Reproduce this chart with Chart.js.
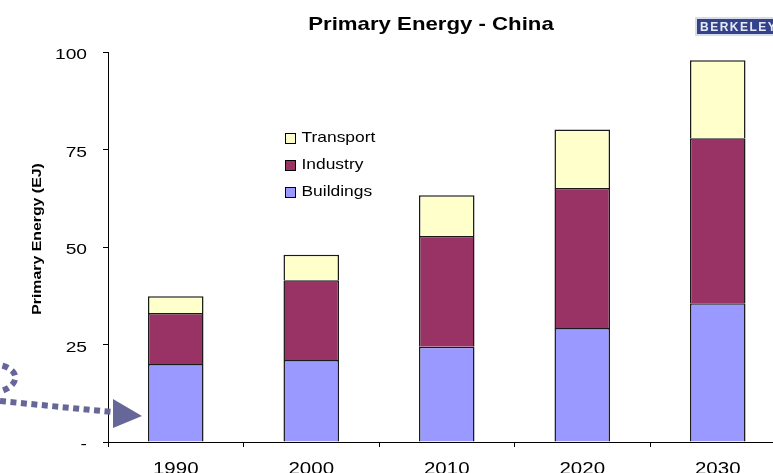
<!DOCTYPE html>
<html>
<head>
<meta charset="utf-8">
<script src="https://cdn.jsdelivr.net/npm/chart.js@4.4.1/dist/chart.umd.min.js"></script>
<style>
  html, body { margin: 0; padding: 0; background: #fff; overflow: hidden; }
  #wrap { position: relative; width: 790px; height: 482px; }
</style>
</head>
<body>
<div id="wrap"><canvas id="energyChart" width="790" height="482"></canvas></div>
<script>
// primary energy by sector, EJ
const years = ["1990", "2000", "2010", "2020", "2030"];
const buildings = [20.0, 21.0, 24.4, 29.2, 35.6];
const industry = [13.1, 20.5, 28.4, 35.9, 42.3];
const transport = [4.3, 6.5, 10.5, 15.0, 20.0];
const yTicks = [0, 25, 50, 75, 100];

const FONT = "'Liberation Sans', Arial, sans-serif";

// text drawn a bit wider than the font's own proportions
function wideText(ctx, text, x, y, sx, align) {
  ctx.save();
  ctx.translate(x, y);
  ctx.scale(sx, 1);
  ctx.textAlign = align;
  ctx.fillText(text, 0, 0);
  ctx.restore();
}

// tick labels, titles, legend, arrow and logo
const extras = {
  id: "extras",
  afterDraw(chart) {
    const ctx = chart.ctx;
    ctx.save();
    ctx.fillStyle = "#000";
    ctx.textBaseline = "alphabetic";

    // axis labels, placed by the scales
    const ys = chart.scales.y;
    ctx.font = "15px " + FONT;
    ys.ticks.forEach(t => {
      const label = t.value === 0 ? "-" : String(t.value);
      wideText(ctx, label, 87, ys.getPixelForValue(t.value) + 7, 1.28, "right");
    });
    const xs = chart.scales.x;
    ctx.font = "16px " + FONT;
    xs.ticks.forEach((t, i) => {
      wideText(ctx, xs.getLabelForValue(t.value), xs.getPixelForTick(i), 473.5, 1.28, "center");
    });

    ctx.font = "bold 18.5px " + FONT;
    wideText(ctx, "Primary Energy - China", 431, 30, 1.2, "center");

    ctx.save();
    ctx.translate(41, 239);
    ctx.rotate(-Math.PI / 2);
    ctx.font = "bold 13px " + FONT;
    wideText(ctx, "Primary Energy (EJ)", 0, 0, 1.22, "center");
    ctx.restore();

    // legend, top series first
    ctx.font = "15px " + FONT;
    const sets = chart.data.datasets.slice().reverse();
    sets.forEach((ds, i) => {
      const y = 133 + i * 27;
      ctx.fillStyle = ds.backgroundColor;
      ctx.fillRect(285, y, 11, 11);
      ctx.strokeStyle = "#000";
      ctx.lineWidth = 1;
      ctx.strokeRect(285.5, y + 0.5, 10, 10);
      ctx.fillStyle = "#000";
      wideText(ctx, ds.label, 301.5, y + 9, 1.16, "left");
    });

    // dotted pointer to the 1990 bar
    const bar = chart.getDatasetMeta(0).data[0];
    const tipX = bar.x - bar.width / 2 - 6;
    ctx.strokeStyle = "#666699";
    ctx.lineWidth = 6;
    ctx.setLineDash([6, 4.5]);
    ctx.beginPath();
    ctx.moveTo(-8, 364);
    ctx.bezierCurveTo(22, 366, 22, 386, -2, 392);
    ctx.bezierCurveTo(-20, 396, -20, 400, 0, 401);
    ctx.lineTo(tipX - 30, 412);
    ctx.stroke();
    ctx.setLineDash([]);
    ctx.fillStyle = "#666699";
    ctx.beginPath();
    ctx.moveTo(tipX - 29, 399);
    ctx.lineTo(tipX, 416);
    ctx.lineTo(tipX - 29, 428);
    ctx.closePath();
    ctx.fill();

    // logo strip
    ctx.fillStyle = "#d8dcea";
    ctx.fillRect(695, 17, 90, 19);
    ctx.fillStyle = "#34428a";
    ctx.fillRect(697, 19, 90, 15);
    ctx.fillStyle = "#e6e9f6";
    ctx.font = "bold 12px " + FONT;
    ctx.letterSpacing = "1.5px";
    ctx.textAlign = "left";
    ctx.fillText("BERKELEY", 700, 31);
    ctx.restore();
  }
};

new Chart(document.getElementById("energyChart"), {
  type: "bar",
  data: {
    labels: years,
    datasets: [
      { label: "Buildings", data: buildings, backgroundColor: "#9999FF" },
      { label: "Industry", data: industry, backgroundColor: "#993366" },
      { label: "Transport", data: transport, backgroundColor: "#FFFFCC" }
    ].map(ds => Object.assign(ds, {
      borderColor: "#1a1a1a",
      borderWidth: 1.5,
      barPercentage: 0.41,
      categoryPercentage: 1.0
    }))
  },
  options: {
    responsive: false,
    animation: false,
    layout: { padding: { top: 52, left: 0, right: 4.5, bottom: 0 } },
    plugins: {
      legend: { display: false },
      title: { display: false },
      tooltip: { enabled: false }
    },
    scales: {
      x: {
        stacked: true,
        border: { color: "#000", width: 1 },
        grid: { drawOnChartArea: false, offset: true, tickLength: 5, color: "#000" },
        ticks: { display: false },
        afterFit: s => { s.height = 40; }
      },
      y: {
        stacked: true,
        min: yTicks[0],
        max: yTicks[yTicks.length - 1],
        border: { color: "#000", width: 1 },
        grid: { drawOnChartArea: false, tickLength: 5, color: "#000" },
        afterBuildTicks: s => { s.ticks = yTicks.map(v => ({ value: v })); },
        ticks: { display: false },
        afterFit: s => { s.width = 108; }
      }
    }
  },
  plugins: [extras]
});
</script>
</body>
</html>
